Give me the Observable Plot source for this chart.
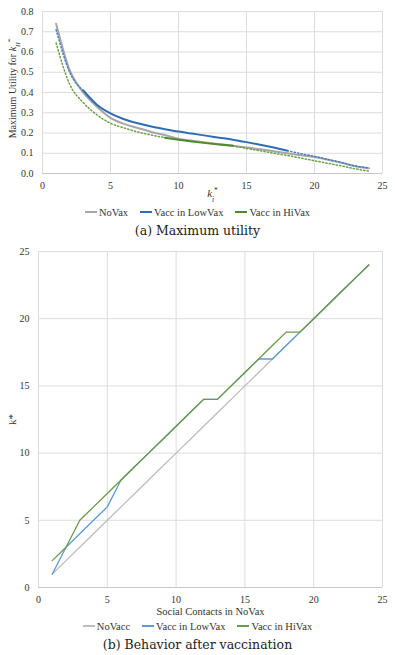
<!DOCTYPE html>
<html><head><meta charset="utf-8">
<script src="https://cdn.jsdelivr.net/npm/d3@7"></script>
<script src="https://cdn.jsdelivr.net/npm/@observablehq/plot@0.6"></script>
<style>
body{margin:0;background:#fff;font-family:"Liberation Serif",serif;}
#wrap{width:395px;}
.legend{display:flex;justify-content:center;align-items:center;gap:12px;font-size:10.5px;color:#333;height:18px;font-family:"Liberation Serif",serif;}
.legend .sw{display:inline-block;width:12px;height:0;border-top:2px solid;margin-right:2px;}
.caption{text-align:center;font-size:12.5px;color:#222;height:20px;line-height:20px;font-family:"DejaVu Serif",serif;}
svg, svg g, svg text{font-family:"Liberation Serif",serif !important;font-variant:normal !important;}
</style></head><body><div id="wrap"></div>
<script>
// ---- Panel (a): Maximum utility ----
const kStar = [1,2,3,4,5,6,7,8,9,10,11,12,13,14,15,16,17,18,19,20,21,22,23,24];
const noVax  = [0.74,0.51,0.40,0.33,0.275,0.245,0.225,0.205,0.19,0.172,0.162,0.153,0.145,0.137,0.128,0.12,0.11,0.10,0.09,0.082,0.068,0.053,0.036,0.026];
const lowVax = [0.71,0.50,0.41,0.34,0.297,0.268,0.248,0.232,0.219,0.207,0.197,0.187,0.177,0.167,0.155,0.142,0.128,0.113,0.098,0.084,0.069,0.054,0.037,0.028];
const hiVax  = [0.645,0.44,0.35,0.29,0.248,0.225,0.205,0.19,0.177,0.167,0.158,0.15,0.143,0.137,0.124,0.112,0.10,0.089,0.076,0.063,0.05,0.037,0.023,0.012];
const lowVaxSolid = [3, 18];  // k range drawn solid, rest dotted
const hiVaxSolid  = [9, 14];
const yTicksA = [0,0.1,0.2,0.3,0.4,0.5,0.6,0.7,0.8];
const xTicks = [0,5,10,15,20,25];

// ---- Panel (b): Behavior after vaccination ----
const contacts = [1,2,3,4,5,6,7,8,9,10,11,12,13,14,15,16,17,18,19,20,21,22,23,24];
const noVacc   = [1,2,3,4,5,6,7,8,9,10,11,12,13,14,15,16,17,18,19,20,21,22,23,24];
const lowVaxK  = [1,3,4,5,6,8,9,10,11,12,13,14,14,15,16,17,17,18,19,20,21,22,23,24];
const hiVaxK   = [2,3,5,6,7,8,9,10,11,12,13,14,14,15,16,17,18,19,19,20,21,22,23,24];
const yTicksB = [0,5,10,15,20,25];

const names = ["NoVax","Vacc in LowVax","Vacc in HiVax"];
const namesB = ["NoVacc","Vacc in LowVax","Vacc in HiVax"];
const colA = ["#a6a6a6","#2f6db5","#4f8a2f"];
const colADot = ["#a6a6a6","#4a7fc0","#6aa043"];
const colB = ["#bdbdbd","#5b9bd5","#6a9a45"];
const grid = "#dcdcdc";

function rows(xs, ys){ return xs.map((x,i)=>({x, y: ys[i]})); }
function parts(xs, ys, range){
  const r = rows(xs, ys);
  return {
    solid: r.filter(d => d.x >= range[0] && d.x <= range[1]),
    dotted: r.filter(d => d.x <= range[0] || d.x >= range[1]).map(d => ({...d, z: d.x <= range[0] ? "lo" : "hi"}))
  };
}
const lowP = parts(kStar, lowVax, lowVaxSolid);
const hiP = parts(kStar, hiVax, hiVaxSolid);
const serif = "Liberation Serif, serif";

const svgA = Plot.plot({
  width: 395, height: 203,
  marginLeft: 42, marginRight: 13, marginTop: 11, marginBottom: 30,
  x: {domain: [0,25]},
  y: {domain: [0,0.8]},
  style: {fontSize: "10px", color: "#333", fontFamily: serif},
  marks: [
    Plot.gridY(yTicksA, {stroke: grid, strokeOpacity: 1}),
    Plot.gridX(xTicks, {stroke: grid, strokeOpacity: 1}),
    Plot.ruleY([0], {stroke: "#c8c8c8"}),
    Plot.axisY(yTicksA, {tickFormat: d3.format(".1f"), tickSize: 0, tickPadding: 9, label: null, fontSize: 10, fontVariant: "normal"}),
    Plot.axisX(xTicks, {tickSize: 0, tickPadding: 8, label: null, fontSize: 10, fontVariant: "normal"}),
    Plot.line(rows(kStar, noVax), {x: "x", y: "y", stroke: colA[0], strokeWidth: 2, curve: "monotone-x"}),
    Plot.line(lowP.dotted, {x: "x", y: "y", z: "z", stroke: colADot[1], strokeWidth: 1.5, strokeDasharray: "1.3,2.2", curve: "monotone-x"}),
    Plot.line(lowP.solid, {x: "x", y: "y", stroke: colA[1], strokeWidth: 2, curve: "monotone-x"}),
    Plot.line(hiP.dotted, {x: "x", y: "y", z: "z", stroke: colADot[2], strokeWidth: 1.5, strokeDasharray: "1.3,2.2", curve: "monotone-x"}),
    Plot.line(hiP.solid, {x: "x", y: "y", stroke: colA[2], strokeWidth: 2, curve: "monotone-x"}),
    Plot.text(["k"], {frameAnchor: "bottom", dy: 20, lineAnchor: "middle", className: "xlabA", fontSize: 11}),
    Plot.text(["k"], {frameAnchor: "left", textAnchor: "middle", lineAnchor: "middle", rotate: -90, dx: -30, dy: -4, className: "ylabA", fontSize: 10})
  ]
});
// rich labels (subscripts / superscripts)
{
  const t = d3.select(svgA).select(".xlabA text").text(null);
  t.append("tspan").attr("font-style","italic").text("k");
  t.append("tspan").attr("font-style","italic").attr("font-size","7.5px").attr("baseline-shift","sub").text("i");
  t.append("tspan").attr("font-size","7.5px").attr("baseline-shift","super").text("*");
  const u = d3.select(svgA).select(".ylabA text").text(null);
  u.append("tspan").text("Maximum Utility for ");
  u.append("tspan").attr("font-style","italic").text("k");
  u.append("tspan").attr("font-style","italic").attr("font-size","7px").attr("baseline-shift","sub").text("II");
  u.append("tspan").attr("font-size","7px").attr("baseline-shift","super").text("*");
}

const svgB = Plot.plot({
  width: 395, height: 376,
  marginLeft: 38, marginRight: 13, marginTop: 10, marginBottom: 30,
  x: {domain: [0,25]},
  y: {domain: [0,25]},
  style: {fontSize: "10px", color: "#333", fontFamily: serif},
  marks: [
    Plot.gridY(yTicksB, {stroke: grid, strokeOpacity: 1}),
    Plot.gridX(xTicks, {stroke: grid, strokeOpacity: 1}),
    Plot.ruleY([0], {stroke: "#c8c8c8"}),
    Plot.axisY(yTicksB, {tickSize: 0, tickPadding: 9, label: null, fontSize: 10, fontVariant: "normal"}),
    Plot.axisX(xTicks, {tickSize: 0, tickPadding: 8, label: null, fontSize: 10, fontVariant: "normal"}),
    Plot.line(rows(contacts, noVacc), {x: "x", y: "y", stroke: colB[0], strokeWidth: 1.3}),
    Plot.line(rows(contacts, lowVaxK), {x: "x", y: "y", stroke: colB[1], strokeWidth: 1.3}),
    Plot.line(rows(contacts, hiVaxK), {x: "x", y: "y", stroke: colB[2], strokeWidth: 1.3}),
    Plot.text(["Social Contacts in NoVax"], {frameAnchor: "bottom", dy: 24, lineAnchor: "middle", fontSize: 10.5}),
    Plot.text(["k*"], {frameAnchor: "left", textAnchor: "middle", lineAnchor: "middle", rotate: -90, dx: -26, fontSize: 11})
  ]
});

function legend(labels, cols, w){
  const d = document.createElement("div");
  d.className = "legend";
  labels.forEach((l,i)=>{
    const s = document.createElement("span");
    s.innerHTML = `<span class="sw" style="border-color:${cols[i]};border-top-width:${w}px"></span>${l}`;
    s.style.display = "flex"; s.style.alignItems = "center";
    d.appendChild(s);
  });
  return d;
}
function caption(t){ const d = document.createElement("div"); d.className = "caption"; d.textContent = t; return d; }

const wrap = document.getElementById("wrap");
wrap.appendChild(svgA);
wrap.appendChild(legend(names, colA, 2));
wrap.appendChild(caption("(a) Maximum utility"));
wrap.appendChild(svgB);
wrap.appendChild(legend(namesB, colB, 2));
wrap.appendChild(caption("(b) Behavior after vaccination"));
</script>
</body></html>
